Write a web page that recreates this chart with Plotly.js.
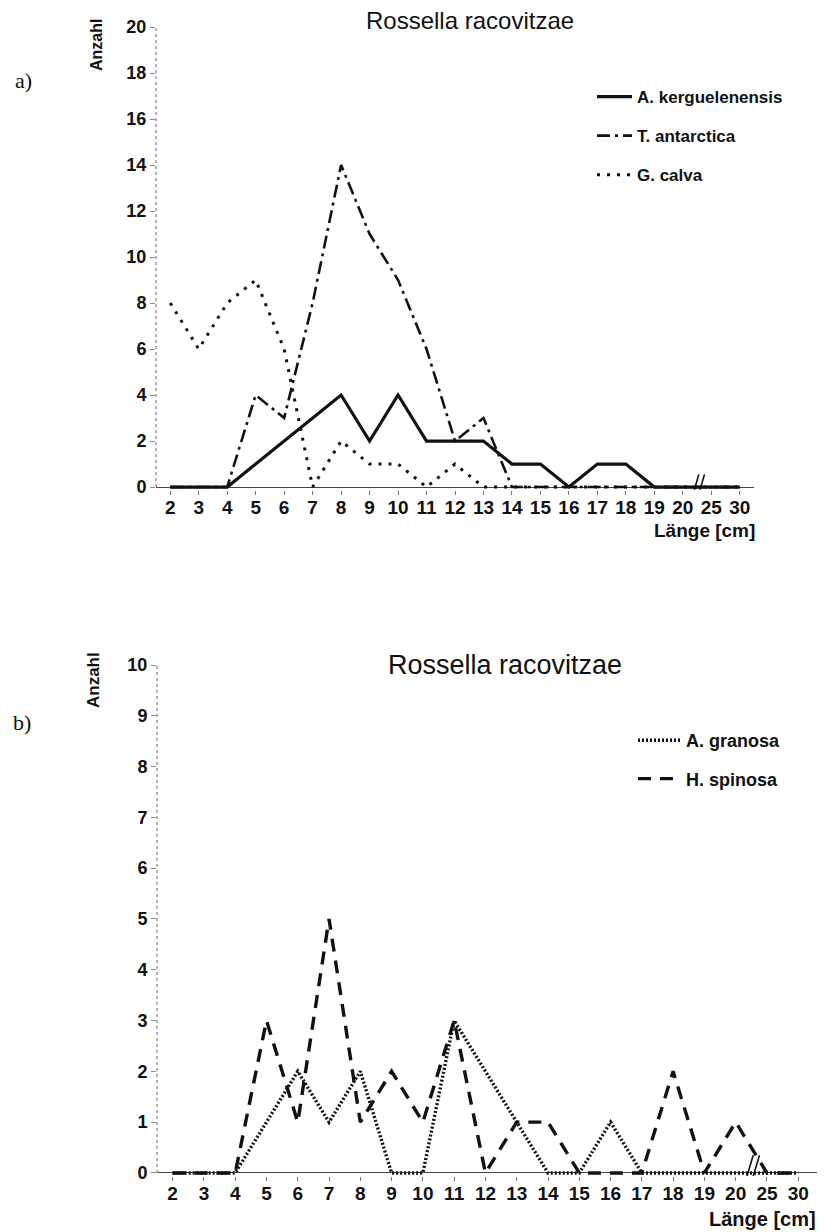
<!DOCTYPE html>
<html>
<head>
<meta charset="utf-8">
<script src="https://cdn.plot.ly/plotly-3.0.1.min.js"></script>
<style>
  html, body { margin: 0; padding: 0; background: #fff; }
  #chart { width: 824px; height: 1232px; }
</style>
</head>
<body>
<div id="chart"></div>
<script>
// Length classes (cm); the axis is broken between 20 and 25
const lengthClasses = ['2','3','4','5','6','7','8','9','10','11','12','13','14','15','16','17','18','19','20','25','30'];

// a) counts per length class
const kerguelenensis = [0,0,0,1,2,3,4,2,4,2,2,2,1,1,0,1,1,0,0,0,0];
const antarctica     = [0,0,0,4,3,8,14,11,9,6,2,3,0,0,0,0,0,0,0,0,0];
const calva          = [8,6,8,9,6,0,2,1,1,0,1,0,0,0,0,0,0,0,0,0,0];

// b) counts per length class
const granosa = [0,0,0,1,2,1,2,0,0,3,2,1,0,0,1,0,0,0,0,0,0];
const spinosa = [0,0,0,3,1,5,1,2,1,3,0,1,1,0,0,0,2,0,1,0,0];

const yTicksA = [0,2,4,6,8,10,12,14,16,18,20];
const yTicksB = [0,1,2,3,4,5,6,7,8,9,10];

const W = 824, H = 1232;
const px = v => v / W;
const py = v => 1 - v / H;

const SANS = 'Liberation Sans, Arial, sans-serif';
const SERIF = 'Liberation Serif, Times New Roman, serif';
const INK = '#111';

function series(name, y, dash, width, xa, ya, legend) {
  return {
    type: 'scatter', mode: 'lines', name: name,
    x: lengthClasses, y: y,
    xaxis: xa, yaxis: ya, legend: legend, legendgroup: name,
    line: { color: INK, width: width, dash: dash },
    hoverinfo: 'x+y+name'
  };
}

const traces = [
  series('A. kerguelenensis', kerguelenensis, 'solid', 3.2, 'x', 'y', 'legend'),
  series('T. antarctica', antarctica, '13px,5px,3px,5px', 2.6, 'x', 'y', 'legend'),
  series('G. calva', calva, '3px,7px', 3, 'x', 'y', 'legend'),
  series('A. granosa', granosa, '2px,2px', 3.4, 'x2', 'y2', 'legend2'),
  series('H. spinosa', spinosa, '13px,9px', 3.4, 'x2', 'y2', 'legend2')
];

function xAxis(domain, range, anchor, size) {
  return {
    domain: domain, anchor: anchor, type: 'category',
    categoryorder: 'array', categoryarray: lengthClasses,
    range: range, tickangle: 0,
    ticks: 'outside', ticklen: 4, tickwidth: 1, tickcolor: '#777',
    ticklabelstandoff: -4,
    showline: false, showgrid: false, zeroline: false,
    tickfont: { family: SANS, size: size, color: INK, weight: 'bold' },
    fixedrange: true
  };
}

function yAxis(domain, range, tickvals, anchor, size) {
  return {
    domain: domain, anchor: anchor, range: range,
    tickmode: 'array', tickvals: tickvals,
    ticks: 'outside', ticklen: 5, tickwidth: 1, tickcolor: '#888',
    showline: false, showgrid: false,
    zeroline: true, zerolinecolor: '#444', zerolinewidth: 1,
    tickfont: { family: SANS, size: size, color: INK, weight: 'bold' },
    fixedrange: true
  };
}

// dotted vertical axis line and the "//" break marks on the length axis
function axisDecor(xa, ya, yTop, breakY0, breakY1) {
  const ln = { color: '#111', width: 1.6 };
  return [
    { type: 'line', xref: xa + ' domain', yref: ya, x0: 0, x1: 0, y0: 0, y1: yTop,
      line: { color: '#666', width: 1, dash: 'dot' } },
    { type: 'line', xref: xa, yref: ya, x0: 18.32, x1: 18.56, y0: breakY0, y1: breakY1, line: ln },
    { type: 'line', xref: xa, yref: ya, x0: 18.52, x1: 18.76, y0: breakY0, y1: breakY1, line: ln }
  ];
}

function label(text, x, y, opts) {
  return Object.assign({
    text: text, xref: 'paper', yref: 'paper', x: px(x), y: py(y),
    xanchor: 'center', yanchor: 'middle', showarrow: false,
    font: { family: SANS, size: 16, color: INK, weight: 'bold' }
  }, opts || {});
}

const layout = {
  width: W, height: H,
  margin: { l: 0, r: 0, t: 0, b: 0 },
  paper_bgcolor: '#fff', plot_bgcolor: 'rgba(0,0,0,0)',
  showlegend: true,
  xaxis: xAxis([px(156), px(754)], [-0.5, 20.5], 'y', 19),
  yaxis: yAxis([py(489.8), py(27)], [-0.12, 20], yTicksA, 'x', 18),
  xaxis2: xAxis([px(157), px(817)], [-0.5, 20.6], 'y2', 19),
  yaxis2: yAxis([py(1176), py(665)], [-0.06, 10], yTicksB, 'x2', 18),
  legend: {
    x: px(592), y: py(79), xanchor: 'left', yanchor: 'top',
    bgcolor: 'rgba(0,0,0,0)', borderwidth: 0,
    itemwidth: 35, tracegroupgap: 14, traceorder: 'grouped',
    font: { family: SANS, size: 17, color: INK, weight: 'bold' }
  },
  legend2: {
    x: px(633), y: py(722), xanchor: 'left', yanchor: 'top',
    bgcolor: 'rgba(0,0,0,0)', borderwidth: 0,
    itemwidth: 43, tracegroupgap: 12, traceorder: 'grouped',
    font: { family: SANS, size: 18, color: INK, weight: 'bold' }
  },
  shapes: [].concat(
    axisDecor('x', 'y', 20, -0.5, 0.55),
    axisDecor('x2', 'y2', 10, -0.15, 0.35)
  ),
  annotations: [
    label('Rossella racovitzae', 470, 20, { font: { family: SANS, size: 24, color: INK } }),
    label('Rossella racovitzae', 505, 665, { font: { family: SANS, size: 27, color: INK } }),
    label('a)', 23, 80, { font: { family: SERIF, size: 22, color: INK } }),
    label('b)', 22, 722, { font: { family: SERIF, size: 22, color: INK } }),
    label('Anzahl', 97, 45, { textangle: -90 }),
    label('Anzahl', 93, 680, { textangle: -90, font: { family: SANS, size: 17, color: INK, weight: 'bold' } }),
    label('Länge [cm]', 757, 530, { xanchor: 'right', font: { family: SANS, size: 19, color: INK, weight: 'bold' } }),
    label('Länge [cm]', 818, 1219, { xanchor: 'right', font: { family: SANS, size: 20, color: INK, weight: 'bold' } })
  ]
};

Plotly.newPlot('chart', traces, layout, { displayModeBar: false, staticPlot: true });
</script>
</body>
</html>
